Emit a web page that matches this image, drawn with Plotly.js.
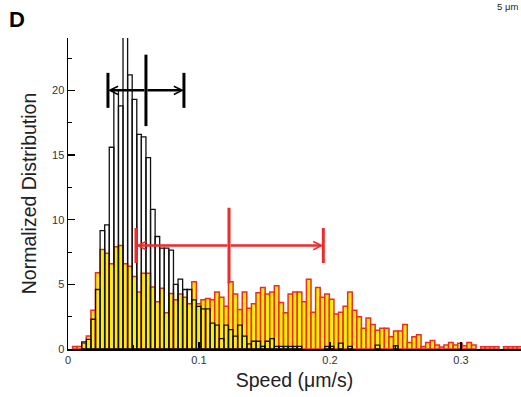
<!DOCTYPE html>
<html>
<head>
<meta charset="utf-8">
<script src="https://cdn.plot.ly/plotly-3.0.1.min.js"></script>
<style>html,body{margin:0;padding:0;background:#fff;}#chart{width:521px;height:397px;}</style>
</head>
<body>
<div id="chart"></div>
<script>
// Histogram bin width (µm/s); bins start at 0
const binWidth = 0.0035;

// Yellow (red-outlined) distribution, one value per bin
const yellowHeights = [
  null, 0.2, 0.2, 0.45, 1.0, 3.0, 5.9, 7.7, 7.4, 6.6,
  7.9, 8.0, 6.6, 6.4, 5.6, 4.4, 5.85, 5.85, 4.8, 3.65,
  4.7, 2.8, 4.3, 3.8, 4.25, 4.0, 3.5, 5.2, 3.5, 3.8,
  3.9, 3.8, 4.4, 4.0, 3.3, 5.2, 4.25, 3.05, 4.4, 3.15,
  3.5, 4.35, 4.75, 4.25, 4.4, 4.9, 3.6, 2.8, 4.25, 4.4,
  4.4, 3.65, 5.4, 2.85, 4.75, 4.0, 4.25, 3.85, 2.7, 2.85,
  3.3, 4.4, 3.0, 2.5, 1.6, 2.4, 1.9, 1.45, 1.6, 1.6,
  0.95, 1.4, 1.4, 1.9, 0.5, 0.95, 1.1, 0.2, 0.5, 0.65,
  0.3, 0.15, 0.3, 0.5, 0.3, 0.45, 0.25, 0.5, 0.3, null,
  0.18, 0.18, 0.18, 0.18, null, 0.18, 0.18, 0.18, 0.18
];

// Black-outlined distribution, one value per bin
const blackHeights = [
  null, null, null, 0.55, 0.75, 2.3, 4.6, 9.15, 9.6, 15.6,
  20.0, 18.8, 24.1, 21.2, 19.3, 16.6, 16.4, 14.8, 10.8, 8.7,
  7.8, 7.8, 7.65, 5.0, 5.4, 4.6, 4.6, 3.8, 3.3, 3.1,
  3.1, 2.0, 1.85, 0.8, 1.85, 1.5, 1.0, 1.85, 1.0, 0.4,
  0.6, 0.6, 0.2, 0.6, 0.8, 0.2, 0.2, 0.2, 0.2, 0.2,
  0.2, null, null, null, null, null, 0.2, 0.2, null, 0.45,
  null, 0.2, null, null, null, null, null, 0.3, null, null,
  null, 0.25
];

// Mean ± SD markers
const blackStats = {lo: 0.0305, mean: 0.0595, hi: 0.0885, level: 20.0};
const redStats   = {lo: 0.0519, mean: 0.1229, hi: 0.1949, level: 8.0};

// Axis ticks
const xTickVals = [0, 0.1, 0.2, 0.3];
const xTickText = ['0', '0.1', '0.2', '0.3'];
const xMinorVals = [0.05, 0.15, 0.25];
const yTickVals = [0, 5, 10, 15, 20];
const yTickText = ['0', '5', '10', '15', '20'];
const yMinorVals = [2.5, 7.5, 12.5, 17.5, 22.5];

const yellowX = yellowHeights.map((_, i) => (i + 0.5) * binWidth);
const blackX = blackHeights.map((_, i) => (i + 0.5) * binWidth);

const RED = '#ee2a2a';
const YELLOW = '#f8f000';

const traces = [
  {
    type: 'bar', x: yellowX, y: yellowHeights, width: binWidth,
    marker: {color: YELLOW, line: {color: RED, width: 1.5}},
    hoverinfo: 'skip'
  },
  {
    type: 'bar', x: blackX, y: blackHeights, width: binWidth,
    marker: {color: 'rgba(0,0,0,0)', line: {color: '#111', width: 1.3}},
    hoverinfo: 'skip'
  },
  {
    type: 'scatter', mode: 'markers', cliponaxis: false,
    x: [blackStats.lo, blackStats.mean, blackStats.hi],
    y: [blackStats.level, blackStats.level, blackStats.level],
    marker: {symbol: 'line-ns', size: [25, 51, 25], color: '#000', opacity: 1,
             line: {color: '#000', width: 3}},
    hoverinfo: 'skip'
  },
  {
    type: 'scatter', mode: 'markers', cliponaxis: false,
    x: [redStats.lo, redStats.mean, redStats.hi],
    y: [redStats.level, redStats.level, redStats.level],
    marker: {symbol: 'line-ns', size: [25, 54, 25], color: RED, opacity: 1,
             line: {color: RED, width: 3}},
    hoverinfo: 'skip'
  }
];

function arrow(stats, end, color) {
  return {
    x: end, y: stats.level, ax: stats.mean, ay: stats.level,
    xref: 'x', yref: 'y', axref: 'x', ayref: 'y',
    text: '', showarrow: true, arrowhead: 5, arrowsize: 0.65,
    arrowwidth: 2.5, arrowcolor: color, standoff: 0, startstandoff: 0
  };
}

const layout = {
  width: 521, height: 397,
  margin: {l: 68, r: 0, t: 38, b: 48, pad: 0},
  paper_bgcolor: '#fff', plot_bgcolor: '#fff',
  barmode: 'overlay', bargap: 0, showlegend: false,
  font: {family: '"Liberation Sans", Arial, sans-serif', color: '#222'},
  xaxis: {
    range: [0, 0.3458], showline: true, linecolor: '#000', linewidth: 1.5,
    showgrid: false, zeroline: false,
    ticks: 'inside', ticklen: 7, tickwidth: 1.2, tickcolor: '#000',
    tickmode: 'array', tickvals: xTickVals, ticktext: xTickText,
    minor: {tickmode: 'array', tickvals: xMinorVals, ticks: 'inside', ticklen: 4, tickwidth: 1, tickcolor: '#000'},
    tickfont: {size: 11, color: '#333'},
    title: {text: 'Speed (\u03bcm/s)', font: {size: 19.5, color: '#222'}, standoff: 8}
  },
  yaxis: {
    range: [0, 24.05], showline: true, linecolor: '#000', linewidth: 1.5,
    showgrid: false, zeroline: false,
    ticks: 'inside', ticklen: 7, tickwidth: 1.2, tickcolor: '#000',
    tickmode: 'array', tickvals: yTickVals, ticktext: yTickText,
    minor: {tickmode: 'array', tickvals: yMinorVals, ticks: 'inside', ticklen: 4, tickwidth: 1, tickcolor: '#000'},
    tickfont: {size: 11, color: '#333'},
    title: {text: 'Normalized Distribution', font: {size: 19.5, color: '#222'}, standoff: 10}
  },
  annotations: [
    arrow(blackStats, blackStats.lo, '#000'),
    arrow(blackStats, blackStats.hi, '#000'),
    arrow(redStats, redStats.lo, RED),
    arrow(redStats, redStats.hi, RED),
    {
      text: '<b>D</b>', xref: 'paper', yref: 'paper', x: -0.135, y: 1.06,
      xanchor: 'left', yanchor: 'middle', showarrow: false,
      font: {size: 22, color: '#000'}
    },
    {
      text: '5 \u03bcm', xref: 'paper', yref: 'paper', x: 0.943, y: 1.1,
      xanchor: 'left', yanchor: 'middle', showarrow: false,
      font: {size: 9.5, color: '#222'}
    }
  ]
};

Plotly.newPlot('chart', traces, layout, {staticPlot: true, displayModeBar: false});
</script>
</body>
</html>
